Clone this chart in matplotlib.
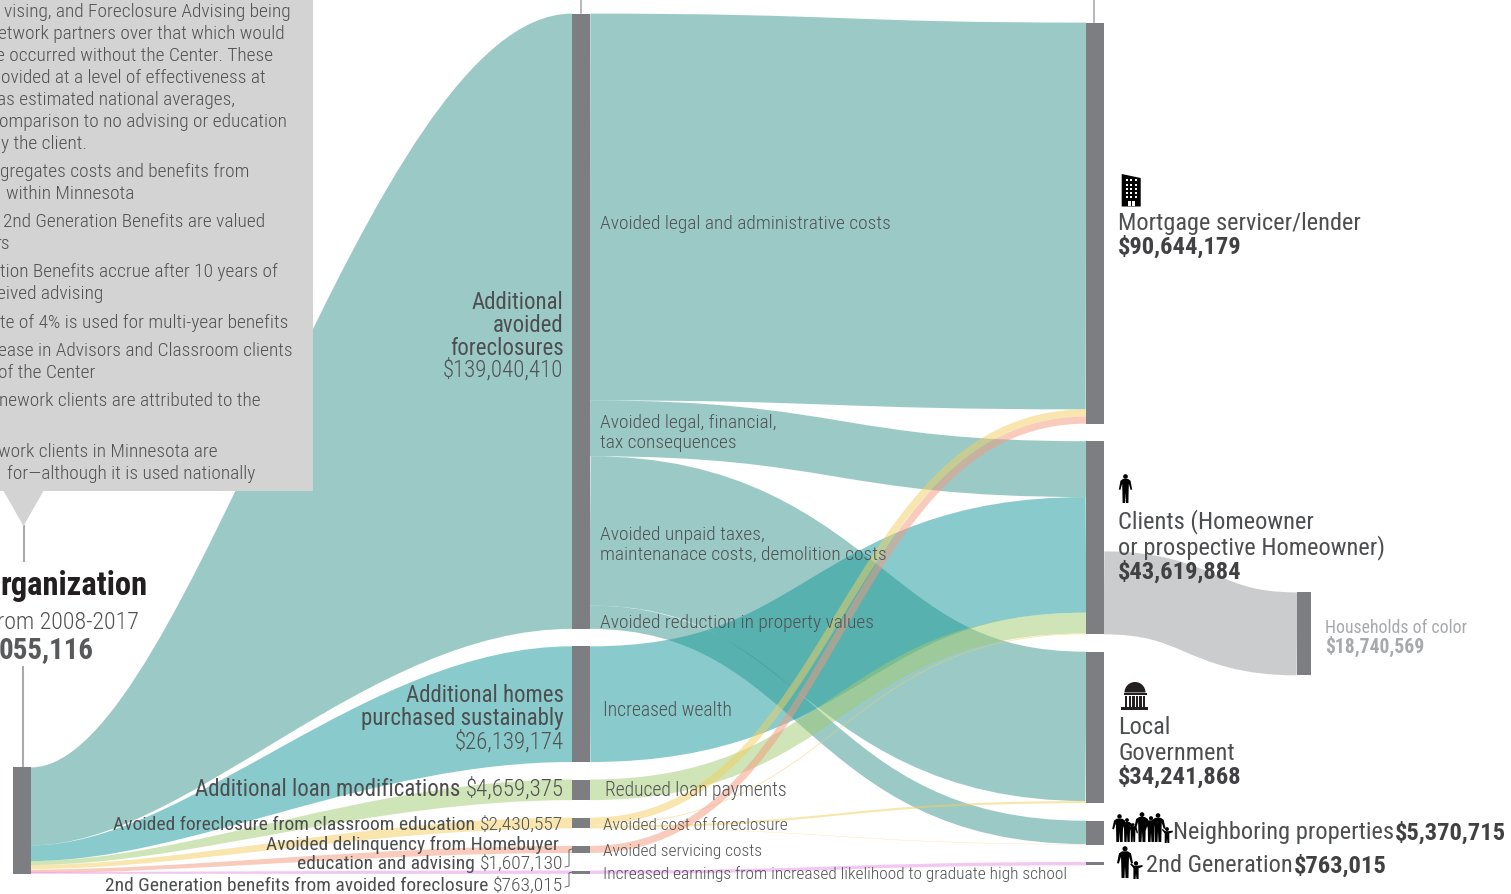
import matplotlib
matplotlib.use("Agg")
import matplotlib.pyplot as plt
from matplotlib.path import Path
from matplotlib.patches import PathPatch, Polygon, Rectangle, Circle, Wedge

# dollars per benefit type
mid_values = [139040410, 26139174, 4659375, 2430557, 1607130, 763015]
right_values = [90644179, 43619884, 34241868, 5370715, 763015]
households_value = 18740569

# benefit type (source) -> beneficiary (target), dollars
flow_source = [0, 0, 0, 0, 1, 2, 3, 3, 3, 3, 4, 5]
flow_target = [0, 1, 2, 3, 1, 1, 0, 1, 2, 3, 0, 4]
flow_values = [87407000, 12620000, 33740000, 5273410, 26139174, 4659375,
               1630049, 201335, 501868, 97305, 1607130, 763015]

FAM = "Roboto Condensed"
TXT = "#505153"
MIDTXT = "#4d4e50"
DARK = "#414042"
NODE = "#7d7e82"
band_colors = ["#39978f", "#15999a", "#a1cb71", "#f3cf5f", "#f5997d", "#e791e9"]

PX = 4.425e-6      # px per dollar
GAP = 17.5
MID_X = (572, 590)
RIGHT_X = (1086, 1104)
LEFT_X = (13, 31)
# the organization bar is squeezed, so its bands get their own heights
left_heights = [78, 15.7, 4, 4, 3.4, 1.9]
left_tops = [768.4, 846.4, 862, 866, 870.6, 872.9]
# pulls the control points of a ribbon to the left, the property band turns early
flow_shift = [0, 0, 0, 27, 0, 0, 0, 0, 0, 0, 0, 0]

fig = plt.figure(figsize=(15.11, 8.95), dpi=100)
ax = fig.add_axes([0, 0, 1, 1])
ax.set_xlim(0, 1511)
ax.set_ylim(895, 0)
ax.set_axis_off()


def stack(values, top):
    tops = []
    y = top
    for v in values:
        tops.append(y)
        y += v * PX + GAP
    return tops


def ribbon(x0, x1, y0, y1, w, color, alpha=0.5, z=2, shift=0):
    # stroked bezier, butt caps end up vertical at both nodes
    xm = (x0 + x1) / 2 - shift
    p = Path([(x0, y0), (xm, y0), (xm, y1), (x1, y1)],
             [Path.MOVETO, Path.CURVE4, Path.CURVE4, Path.CURVE4])
    ax.add_patch(PathPatch(p, fc="none", ec=color, lw=w * 0.72, alpha=alpha,
                           capstyle="butt", zorder=z))


def taper(x0, x1, y0t, y0b, y1t, y1b, color, a=0.29, b=0.62):
    dx = x1 - x0
    p = Path([(x0, y0t), (x0 + a * dx, y0t), (x0 + b * dx, y1t), (x1, y1t),
              (x1, y1b), (x0 + b * dx, y1b), (x0 + a * dx, y0b), (x0, y0b), (x0, y0t)],
             [Path.MOVETO, Path.CURVE4, Path.CURVE4, Path.CURVE4,
              Path.LINETO, Path.CURVE4, Path.CURVE4, Path.CURVE4, Path.CLOSEPOLY])
    ax.add_patch(PathPatch(p, fc=color, ec="none", alpha=0.5, zorder=2))


def label(x, y, s, px=19.5, weight="light", color=TXT, ha="left"):
    return ax.text(x, y, s, fontsize=px * 0.72, family=FAM, weight=weight, color=color,
                   ha=ha, va="baseline", zorder=8)


def two_part(x, y, name, value, px, gap=5):
    # right aligned "name value", the value is set lighter
    t = label(x, y, value, px, "light", ha="right")
    w = t.get_window_extent(fig.canvas.get_renderer()).width
    label(x - w - gap, y, name, px, "normal", MIDTXT, ha="right")


def person(cx, top, h, wide=1.25, child=False, color="black"):
    k = h / (20.0 if child else 30.0)
    ax.add_patch(Circle((cx, top + 2.6 * k), 2.4 * k, fc=color, ec="none", zorder=7))
    body = [(-2.2, 5), (2.2, 5), (4.5, 7), (6, 16), (4.6, 16.5), (3, 10), (2.8, 18), (2.6, 30),
            (0.4, 30), (0, 19), (-0.4, 30), (-2.6, 30), (-2.8, 18), (-3, 10), (-4.6, 16.5), (-6, 16), (-4.5, 7)]
    if child:
        body = [(-1.8, 5.2), (1.8, 5.2), (6, 4.5), (6, 6.5), (2.4, 8), (2.4, 20), (0.4, 20),
                (0, 14), (-0.4, 20), (-2.4, 20), (-2.4, 8), (-5.5, 3.5), (-4.5, 2.5)]
    ax.add_patch(Polygon([(cx + bx * k * wide, top + by * k) for bx, by in body],
                         fc=color, ec="none", zorder=7))


# grey note box with its pointer and leader lines
ax.add_patch(Rectangle((0, 0), 312.5, 491.5, fc="#d3d3d3", ec="none", zorder=4))
ax.add_patch(Polygon([(3, 491), (44, 491), (23.5, 527)], fc="#d3d3d3", ec="none", zorder=4))
ax.plot([23.5, 23.5], [527, 562], color="#aaabae", lw=1.5, zorder=3)
ax.plot([22.5, 22.5], [668, 768], color="#aaabae", lw=1.5, zorder=3)
ax.plot([581, 581], [0, 14], color="#aaabae", lw=1.2, zorder=3)
ax.plot([1094, 1094], [0, 23], color="#aaabae", lw=1.2, zorder=3)

note_right = [290.5, 284.5, 273, 266, 235, 286.5, 87, 249, 134, 265, 10, 278, 103, 288, 293, 95, 261, 218, 255]
note_base = [16.8, 38.8, 60.8, 82.8, 105.3, 126.8, 148.8, 177.3, 199.3, 227.3, 249.3, 277.3, 299.3, 328.3,
             356.3, 378.3, 406.3, 457.3, 479.3]
note_lines = ["vising, and Foreclosure Advising being", "etwork partners over that which would",
              "e occurred without the Center. These", "ovided at a level of effectiveness at",
              "as estimated national averages,", "omparison to no advising or education",
              "y the client.", "gregates costs and benefits from", "within Minnesota",
              "2nd Generation Benefits are valued", "rs", "tion Benefits accrue after 10 years of",
              "eived advising", "te of 4% is used for multi-year benefits",
              "ease in Advisors and Classroom clients", "of the Center",
              "nework clients are attributed to the", "work clients in Minnesota are",
              "for\u2014although it is used nationally"]
for xr, yb, s in zip(note_right, note_base, note_lines):
    label(xr, yb, s, 19.4, "light", ha="right")

mid_tops = stack(mid_values, 14.6)
right_tops = stack(right_values, 23.6)

# organization -> benefit type
for i, v in enumerate(mid_values):
    taper(LEFT_X[1], MID_X[0], left_tops[i], left_tops[i] + left_heights[i],
          mid_tops[i], mid_tops[i] + v * PX, band_colors[i])

# benefit type -> beneficiary
src_y = list(mid_tops)
dst_y = list(right_tops)
for s, t, v, sh in zip(flow_source, flow_target, flow_values, flow_shift):
    w = v * PX
    ribbon(MID_X[1], RIGHT_X[0], src_y[s] + w / 2, dst_y[t] + w / 2, w, band_colors[s], shift=sh)
    src_y[s] += w
    dst_y[t] += w

# clients -> households of color
hh_w = households_value * PX
ribbon(RIGHT_X[1], 1297, 552.4 + hh_w / 2, 593.4 + hh_w / 2, hh_w, "#cbccce", alpha=1, z=1)

# nodes
ax.add_patch(Rectangle((LEFT_X[0], 768.4), LEFT_X[1] - LEFT_X[0], 107, fc=NODE, ec="none", zorder=5))
for y, v in zip(mid_tops, mid_values):
    ax.add_patch(Rectangle((MID_X[0], y), MID_X[1] - MID_X[0], v * PX, fc=NODE, ec="none", zorder=5))
for y, v in zip(right_tops, right_values):
    ax.add_patch(Rectangle((RIGHT_X[0], y), RIGHT_X[1] - RIGHT_X[0], v * PX, fc=NODE, ec="none", zorder=5))
ax.add_patch(Rectangle((1297, 593.4), 14, hh_w, fc=NODE, ec="none", zorder=5))

# organization label, runs off the left edge
label(148, 595, "rganization", 32.6, "bold", color="#231f20", ha="right")
label(139, 629, "rom 2008-2017", 24, "light", ha="right")
label(94, 658.5, "055,116", 29, "bold", color="#58595b", ha="right")

# benefit type labels
for y, s, w, c in [(308.5, "Additional", "normal", MIDTXT), (331.5, "avoided", "normal", MIDTXT),
                   (354.5, "foreclosures", "normal", MIDTXT), (377, "$139,040,410", "light", TXT),
                   (702, "Additional homes", "normal", MIDTXT), (725, "purchased sustainably", "normal", MIDTXT),
                   (749, "$26,139,174", "light", TXT)]:
    label(563.5, y, s, 22.9, w, c, ha="right")
two_part(563.5, 796, "Additional loan modifications", "$4,659,375", 22.9)
two_part(563.5, 830, "Avoided foreclosure from classroom education", "$2,430,557", 19.5)
label(559, 850, "Avoided delinquency from Homebuyer", 19.5, "normal", MIDTXT, ha="right")
two_part(563.5, 869, "education and advising", "$1,607,130", 19.5)
two_part(563.5, 891, "2nd Generation benefits from avoided foreclosure", "$763,015", 19.5)
for y0, y1 in [(868, 850), (888, 873)]:
    ax.plot([565, 569, 569, 572], [y0, y0 - 1, y1 + 1, y1], color=TXT, lw=0.6, zorder=8)

# flow labels
flow_labels = [(599.5, 229.3, "Avoided legal and administrative costs", 19.5),
               (599.5, 428.5, "Avoided legal, financial,", 19.5), (599.5, 448.5, "tax consequences", 19.5),
               (599.5, 539.5, "Avoided unpaid taxes,", 19.5), (599.5, 559.5, "maintenanace costs, demolition costs", 19.5),
               (599.5, 628.5, "Avoided reduction in property values", 19.5),
               (603, 715.5, "Increased wealth", 19.6), (605, 796, "Reduced loan payments", 19.6),
               (603, 830, "Avoided cost of foreclosure", 17.4), (603, 856, "Avoided servicing costs", 17.4),
               (603, 879, "Increased earnings from increased likelihood to graduate high school", 17.4)]
for x, y, s, px in flow_labels:
    label(x, y, s, px)

# beneficiary labels
label(1118, 229.8, "Mortgage servicer/lender", 24.4, "normal", MIDTXT)
label(1118, 254, "$90,644,179", 24.5, "bold", DARK)
label(1118, 528.8, "Clients (Homeowner", 24.4, "normal", MIDTXT)
label(1118, 554.8, "or prospective Homeowner)", 24.4, "normal", MIDTXT)
label(1118, 579, "$43,619,884", 24.5, "bold", DARK)
label(1118, 734.5, "Local", 24.4, "normal", MIDTXT)
label(1118, 760.5, "Government", 24.4, "normal", MIDTXT)
label(1118, 784, "$34,241,868", 24.5, "bold", DARK)
label(1173, 839.5, "Neighboring properties", 24.4, "normal", MIDTXT)
label(1506, 839.5, "$5,370,715", 24.5, "bold", DARK, ha="right")
label(1146, 872.5, "2nd Generation", 24.4, "normal", MIDTXT)
label(1387, 872.5, "$763,015", 24.5, "bold", DARK, ha="right")
label(1325, 633, "Households of color", 17.8, "normal", "#a7a9ac")
label(1325, 653, "$18,740,569", 19.6, "bold", "#a7a9ac")

# building icon
ax.add_patch(Polygon([(1121.7, 175), (1140.7, 179), (1140.7, 207.5), (1121.7, 207.5)], fc="black", ec="none", zorder=7))
for wx in (1125.5, 1130, 1134.5):
    for wy in (180, 184.5, 189, 193, 197):
        ax.add_patch(Rectangle((wx, wy), 2.4, 2.4, fc="white", ec="none", zorder=7))
ax.add_patch(Rectangle((1128, 201.5), 3, 5, fc="white", ec="none", zorder=7))
ax.add_patch(Rectangle((1132, 201.5), 3, 5, fc="white", ec="none", zorder=7))

# government dome icon
ax.add_patch(Wedge((1135, 693.5), 10.5, 180, 360, fc="#231f20", ec="none", zorder=7))
ax.add_patch(Rectangle((1123.5, 693.5), 23, 2.2, fc="#231f20", ec="none", zorder=7))
for i in range(6):
    ax.add_patch(Rectangle((1125 + i * 3.6, 696.5), 2.4, 11.5, fc="#231f20", ec="none", zorder=7))
ax.add_patch(Rectangle((1121, 708), 27, 3, fc="#231f20", ec="none", zorder=7))

# people icons
person(1125.5, 475, 29, wide=1.15)
for cx, top, h in [(1119.5, 815, 28), (1127, 819, 24), (1133, 824, 19), (1142, 813, 30),
                   (1151, 817, 26), (1158, 814, 29)]:
    person(cx, top, h, wide=1.3)
person(1167, 828, 16, wide=1.2, child=True)
person(1125, 847, 32)
person(1136, 862, 18, wide=1.2, child=True)

fig.savefig("out.png", dpi=100)
